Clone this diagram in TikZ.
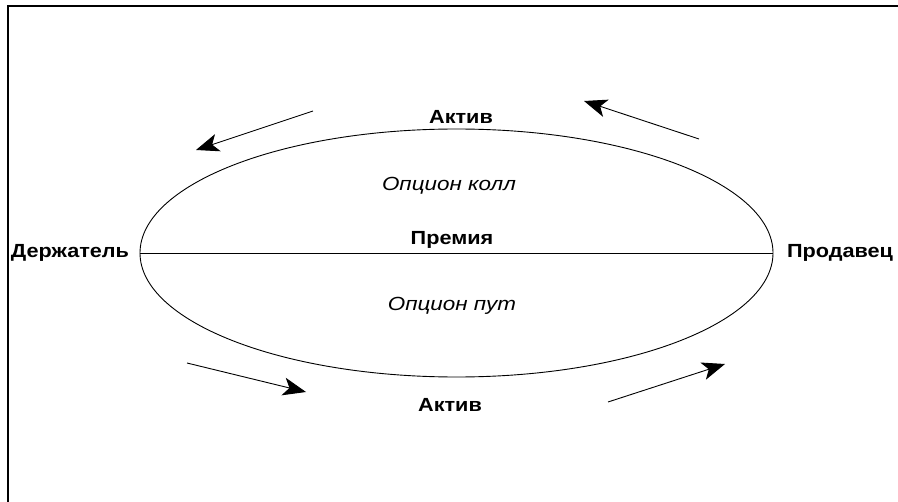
\documentclass[tikz,border=0pt]{standalone}
\usepackage{fontspec}
\usepackage{graphicx}
\setmainfont{Liberation Sans}
\usetikzlibrary{arrows.meta,shapes.geometric}
\newcommand{\widetext}[2]{\scalebox{#1}[1]{#2}}
\begin{document}
\begin{tikzpicture}[x=1bp,y=-1bp,
  lbl/.style={font=\fontsize{19bp}{21bp}\selectfont\bfseries, inner sep=0pt},
  itl/.style={font=\fontsize{19bp}{21bp}\selectfont\itshape, inner sep=0pt},
  flow/.style={line width=0.9bp, -{Stealth[length=23bp,width=18bp,inset=6bp]}}]
\useasboundingbox (0,0) rectangle (898,502);
\fill[white] (0,0) rectangle (898,502);
% frame
\draw[line width=1.4bp] (8,502) -- (8,6) -- (898,6);
% ellipse
\node (ell) [draw, line width=0.9bp, ellipse, minimum width=633bp, minimum height=248bp, inner sep=0pt] at (456.5,253) {};
\draw[line width=0.9bp] (ell.west) -- (ell.east);
% texts
\node (hold) [lbl] at (70,253) {\widetext{1.14}{Держатель}};
\node (sell) [lbl] at (840,253) {\widetext{1.14}{Продавец}};
\node (prem) [lbl] at (452,240) {\widetext{1.14}{Премия}};
\node (atop) [lbl] at (461,117) {\widetext{1.14}{Актив}};
\node (abot) [lbl] at (450,405) {\widetext{1.14}{Актив}};
\node (call) [itl] at (449,186) {\widetext{1.18}{Опцион колл}};
\node (put) [itl] at (452,306) {\widetext{1.18}{Опцион пут}};
% arrows
\coordinate (a1s) at (313,111); \coordinate (a1e) at (196,150);
\coordinate (a2s) at (699,139); \coordinate (a2e) at (584,101);
\coordinate (a3s) at (187,363); \coordinate (a3e) at (306,392);
\coordinate (a4s) at (608,402); \coordinate (a4e) at (725,364);
\draw[flow] (a1s) -- (a1e);
\draw[flow] (a2s) -- (a2e);
\draw[flow] (a3s) -- (a3e);
\draw[flow] (a4s) -- (a4e);
\end{tikzpicture}
\end{document}
